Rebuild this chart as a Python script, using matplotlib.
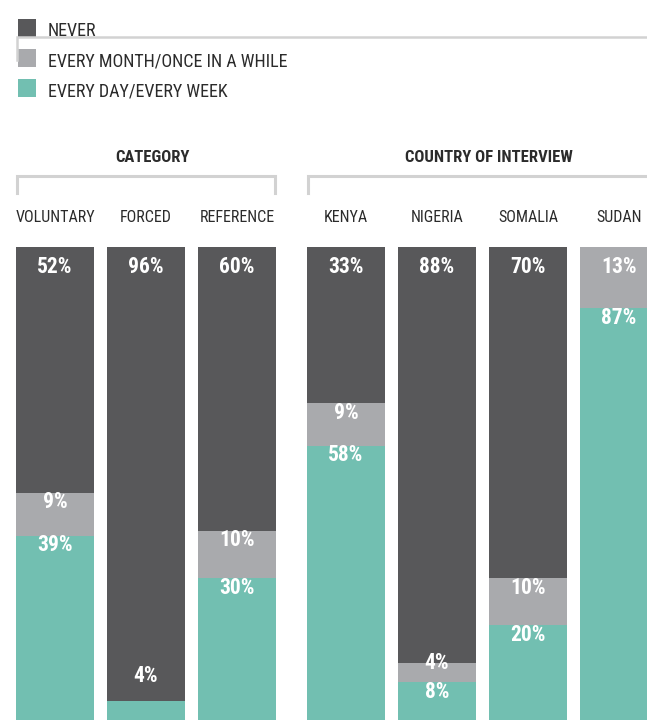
import matplotlib
matplotlib.use('Agg')
import matplotlib.pyplot as plt
from matplotlib import font_manager
from matplotlib.lines import Line2D
from matplotlib.patches import Rectangle
import numpy as np

# --- data ---
group_names = ['CATEGORY', 'COUNTRY OF INTERVIEW']
bar_names = ['VOLUNTARY', 'FORCED', 'REFERENCE', 'KENYA', 'NIGERIA', 'SOMALIA', 'SUDAN']
bar_group = [0, 0, 0, 1, 1, 1, 1]
never = [52, 96, 60, 33, 88, 70, 0]
monthly = [9, 0, 10, 9, 4, 10, 13]
daily = [39, 4, 30, 58, 8, 20, 87]
series_names = ['NEVER', 'EVERY MONTH/ONCE IN A WHILE', 'EVERY DAY/EVERY WEEK']
series_colors = ['#58585a', '#a9aaad', '#72bfb1']


# look for a condensed / narrow family that has both a regular and a bold face
def wnum(w):
    return w if isinstance(w, int) else font_manager.weight_dict.get(w, 400)


fams = {}
for f in font_manager.fontManager.ttflist:
    low = f.name.lower()
    if 'condensed' in low or 'narrow' in low:
        fams.setdefault(f.name, set()).add(wnum(f.weight))
good = [n for n, ws in fams.items()
        if any(w >= 600 for w in ws) and any(350 <= w <= 500 for w in ws)]
prefer = ['Roboto Condensed', 'Open Sans Condensed', 'Noto Sans Condensed',
          'Liberation Sans Narrow', 'DejaVu Sans Condensed']
font = 'Roboto'
for p in prefer:
    if p in good:
        font = p
        break
else:
    if good:
        font = sorted(good)[0]
plt.rcParams['font.family'] = [font, 'DejaVu Sans']

W, H = 647, 722
fig = plt.figure(figsize=(W / 100, H / 100), dpi=100)
ax = fig.add_axes([0, 0, 1, 1])
ax.axis('off')

step = 91.0          # px between bar centres
pxu = 4.73           # px per percent
x0 = 55.0            # centre of first bar in px
ax.set_xlim(-x0 / step, (W - x0) / step)
ax.set_ylim(-2 / pxu, (H - 2) / pxu)

gap = 18 / step
xs = np.arange(len(bar_names)) + np.array(bar_group) * gap
width = 78 / step

never = np.array(never)
monthly = np.array(monthly)
daily = np.array(daily)

ax.bar(xs, daily, width, color=series_colors[2], linewidth=0)
ax.bar(xs, monthly, width, bottom=daily, color=series_colors[1], linewidth=0)
ax.bar(xs, never, width, bottom=daily + monthly, color=series_colors[0], linewidth=0)

# value labels near the top of each segment
lab_kw = dict(ha='center', va='center', color='white', fontsize=15.5, fontweight='bold')
for i, x in enumerate(xs):
    segs = [(never[i], 100), (monthly[i], daily[i] + monthly[i]), (daily[i], daily[i])]
    for j, (v, top) in enumerate(segs):
        if v == 0:
            continue
        if top >= 100:
            y = top - 4.2
        elif v < 5 and j == 2:
            y = top + 5.3      # too thin: sit above the segment
        elif v < 5:
            y = top            # thin: straddle the top edge
        else:
            y = top - 2.0
        ax.text(x, y, f'{v}%', **lab_kw)


def fx(px):
    return px / W


def fy(py):
    return 1 - py / H


txt = '#2b2b2b'
line_c = '#d2d2d2'

# bar names
for x, name in zip(xs, bar_names):
    xp = x0 + x * step
    fig.text(fx(xp), fy(218), name, ha='center', va='center', fontsize=11.5, color=txt)

# group headers and brackets
for g, gname in enumerate(group_names):
    idx = [i for i, b in enumerate(bar_group) if b == g]
    left = x0 + xs[idx[0]] * step - 78 / 2
    right = x0 + xs[idx[-1]] * step + 78 / 2
    centre = (left + right) / 2
    fig.text(fx(centre + 6), fy(158), gname, ha='center', va='center',
             fontsize=12, fontweight='bold', color=txt)
    fig.add_artist(Line2D([fx(left + 1), fx(left + 1), fx(right - 1), fx(right - 1)],
                          [fy(193), fy(176), fy(176), fy(193)],
                          color=line_c, lw=2.2, solid_joinstyle='miter'))

# stray line under the legend
fig.add_artist(Line2D([fx(17), fx(17), fx(W + 5)], [fy(60), fy(37), fy(37)],
                      color=line_c, lw=1.8, solid_joinstyle='miter'))

# legend
for k, (name, col) in enumerate(zip(series_names, series_colors)):
    top = 19 + k * 30
    fig.add_artist(Rectangle((fx(18), fy(top + 18)), 18 / W, 18 / H,
                             color=col, lw=0))
    fig.text(fx(48), fy(top + 12), name, ha='left', va='center',
             fontsize=13, color=txt)

fig.savefig('out.png', dpi=100)
